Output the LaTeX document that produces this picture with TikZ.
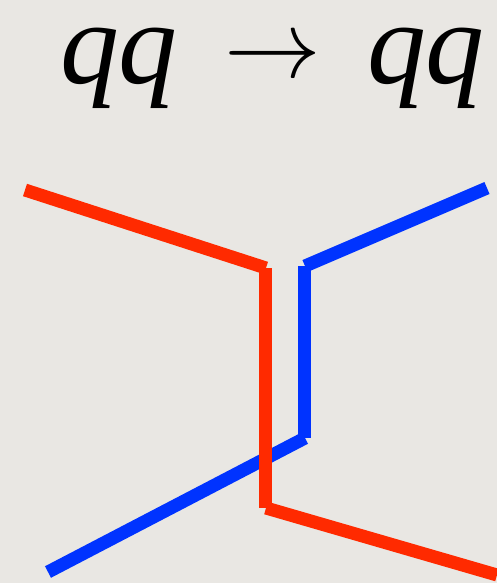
\documentclass[tikz,border=0pt]{standalone}
\usepackage{fix-cm}
\usepackage{fontspec}
\setmainfont{Liberation Serif}
\usetikzlibrary{positioning}
\definecolor{paper}{HTML}{E9E7E3}
\definecolor{qred}{HTML}{FF2A00}
\definecolor{qblue}{HTML}{0033FF}

\begin{document}
\begin{tikzpicture}[x=0.02cm,y=-0.02cm]
\tikzstyle{quark}=[line width=13*0.02cm,line cap=butt]
\tikzstyle{big}=[inner sep=2pt,anchor=base,font=\fontsize{67}{80}\selectfont\itshape]
\fill[paper] (0,0) rectangle (497,583);
\useasboundingbox (0,0) rectangle (497,583);
% title
\node[big] (lhs) at (119,83) {qq};
\node[inner sep=2pt,anchor=base,font=\fontsize{55}{60}\selectfont] (arrow) at (273,77) {$\rightarrow$};
\node[big] (rhs) at (426,83) {qq};
% blue quark
\coordinate (b1) at (487,188);
\coordinate (b2) at (305,266);
\coordinate (b3) at (305,438);
\coordinate (b4) at (48,572);
\draw[quark,qblue] (b1) -- (b2);
\draw[quark,qblue] (b2) -- (b3);
\draw[quark,qblue] (b3) -- (b4);
% red quark
\coordinate (r1) at (25,190);
\coordinate (r2) at (266,268);
\coordinate (r3) at (266,508);
\coordinate (r4) at (497,575);
\draw[quark,qred] (r1) -- (r2);
\draw[quark,qred] (r2) -- (r3);
\draw[quark,qred] (r3) -- (r4);
\end{tikzpicture}
\end{document}
